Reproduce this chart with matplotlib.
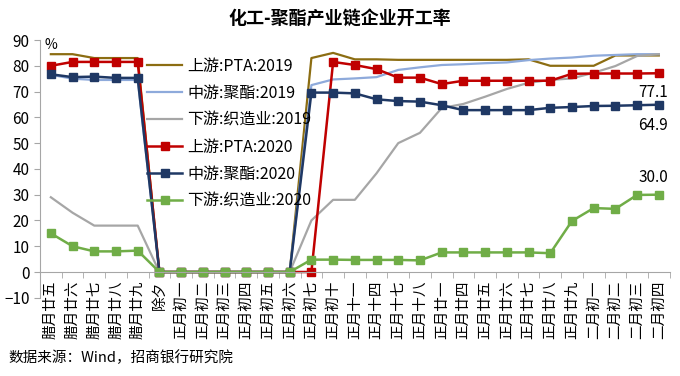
# 化工-聚酯产业链企业开工率 chart
import matplotlib
matplotlib.use('Agg')
import matplotlib.pyplot as plt
import numpy as np

plt.rcParams['font.family'] = ['Noto Sans CJK SC', 'DejaVu Sans']

# categories (lunar calendar dates)
dates = ['腊月廿五', '腊月廿六', '腊月廿七', '腊月廿八', '腊月廿九', '除夕',
         '正月初一', '正月初二', '正月初三', '正月初四', '正月初五', '正月初六',
         '正月初七', '正月初十', '正月十一', '正月十四', '正月十七', '正月十八',
         '正月廿一', '正月廿四', '正月廿五', '正月廿六', '正月廿七', '正月廿八',
         '正月廿九', '二月初一', '二月初二', '二月初三', '二月初四']

pta_2019 = [84.5, 84.5, 83, 83, 83, 0, 0, 0, 0, 0, 0, 0, 83, 85, 82.5, 82.5,
            82.3, 82.3, 82.3, 82.3, 82.3, 82.3, 82.5, 80, 80, 80, 84, 84, 84]
polyester_2019 = [76.5, 75, 74.5, 74.5, 74.5, 0, 0, 0, 0, 0, 0, 0, 72.5, 74.7,
                  75.1, 75.6, 78.4, 79.4, 80.3, 80.6, 81, 81.3, 82.2, 82.8,
                  83.2, 83.9, 84.2, 84.5, 84.5]
weaving_2019 = [29, 23, 18, 18, 18, 0, 0, 0, 0, 0, 0, 0, 20, 28, 28, 38.3, 50,
                54, 63.6, 65.2, 68, 71, 73.4, 74.5, 75.1, 77.3, 79.9, 83.8, 84.5]
pta_2020 = [80, 81.5, 81.5, 81.5, 81.5, 0, 0, 0, 0, 0, 0, 0, 0, 81.5, 80.3,
            78.7, 75.4, 75.4, 72.9, 74.2, 74.2, 74.2, 74.2, 74.2, 76.9, 77,
            77, 77, 77.1]
polyester_2020 = [76.7, 75.6, 75.8, 75.3, 75.3, 0, 0, 0, 0, 0, 0, 0, 69.6, 69.6,
                  69.3, 67, 66.3, 66.1, 64.7, 62.8, 62.8, 62.8, 62.8, 63.7, 64,
                  64.4, 64.5, 64.7, 64.9]
weaving_2020 = [15, 10, 8, 8, 8.3, 0, 0, 0, 0, 0, 0, 0, 4.8, 4.8, 4.7, 4.7, 4.7,
                4.5, 7.6, 7.6, 7.6, 7.6, 7.6, 7.3, 19.8, 24.8, 24.5, 29.9, 30.0]

x = np.arange(len(dates))

fig = plt.figure(figsize=(6.8, 3.76), dpi=100)
ax = fig.add_axes([0.0588, 0.208, 0.926, 0.6856])

# axis at y=0 (set before tick styling, since it resets ticks)
for s in ['top', 'right']:
    ax.spines[s].set_visible(False)
ax.spines['bottom'].set_position(('data', 0))
ax.spines['bottom'].set_color('#a6a6a6')
ax.spines['left'].set_color('#a6a6a6')

ax.plot(x, pta_2019, color='#8c6d12', lw=1.6, label='上游:PTA:2019')
ax.plot(x, polyester_2019, color='#8eaadb', lw=1.6, label='中游:聚酯:2019')
ax.plot(x, weaving_2019, color='#a6a6a6', lw=1.6, label='下游:织造业:2019')
ax.plot(x, pta_2020, color='#c00000', lw=1.8, marker='s', ms=6, label='上游:PTA:2020')
ax.plot(x, polyester_2020, color='#1f3864', lw=1.8, marker='s', ms=6, label='中游:聚酯:2020')
ax.plot(x, weaving_2020, color='#70ad47', lw=1.8, marker='s', ms=6, label='下游:织造业:2020')

# end-value labels
ax.annotate(f'{pta_2020[-1]:.1f}', (x[-1], pta_2020[-1]), xytext=(-4, -8),
            textcoords='offset points', ha='center', va='top', fontsize=11)
ax.annotate(f'{polyester_2020[-1]:.1f}', (x[-1], polyester_2020[-1]), xytext=(-4, -9),
            textcoords='offset points', ha='center', va='top', fontsize=11)
ax.annotate(f'{weaving_2020[-1]:.1f}', (x[-1], weaving_2020[-1]), xytext=(-4, 6),
            textcoords='offset points', ha='center', va='bottom', fontsize=11)

ax.set_xlim(-0.5, len(dates) - 0.5)
ax.set_ylim(-10, 90)
ax.set_yticks(range(-10, 91, 10))
ax.set_xticks(x)
ax.set_xticklabels(dates, rotation=90, fontsize=10.5)
ax.set_xticks(np.arange(-0.5, len(dates), 1), minor=True)
ax.tick_params(axis='x', which='major', length=0, pad=6)
ax.tick_params(axis='x', which='minor', length=4, color='#a6a6a6', direction='out')
ax.tick_params(axis='y', labelsize=11, length=4, color='#a6a6a6')

ax.text(0.0, 88, '%', fontsize=10, ha='center', va='center')

leg = ax.legend(loc='upper left', bbox_to_anchor=(0.16, 0.955), frameon=False,
                fontsize=11.5, handlelength=2.2, handletextpad=0.3,
                labelspacing=0.62, borderaxespad=0)

fig.text(0.5, 0.952, '化工-聚酯产业链企业开工率', ha='center', va='center',
         fontsize=13, fontweight='bold')
fig.text(0.012, 0.048, '数据来源：Wind，招商银行研究院', ha='left', va='center',
         fontsize=10.5)

fig.savefig('out.png', dpi=100)
